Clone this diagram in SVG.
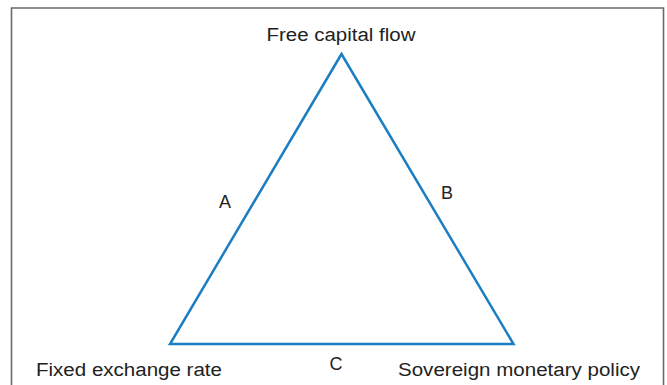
<svg xmlns="http://www.w3.org/2000/svg" width="667" height="385" viewBox="0 0 667 385">
<style>
.t{font-family:"Liberation Sans",Arial,sans-serif;font-size:18px;fill:#222}
.edge{fill:none;stroke:#1b7ec2;stroke-width:2.5;stroke-linejoin:miter}
</style>
<rect x="0" y="0" width="667" height="385" fill="#fff"/>
<path d="M11.5 390 V8 H663.5 V390" fill="none" stroke="#6a6a6a" stroke-width="1.6"/>
<g id="connectors">
<path class="edge" d="M341.5 54 L170 344 L513.5 344 Z"/>
</g>
<g id="node-capital"><text class="t" x="341" y="41" text-anchor="middle" textLength="149" lengthAdjust="spacingAndGlyphs">Free capital flow</text></g>
<g id="node-fixed"><text class="t" x="36" y="376" textLength="186" lengthAdjust="spacingAndGlyphs">Fixed exchange rate</text></g>
<g id="node-sovereign"><text class="t" x="398" y="376" textLength="242" lengthAdjust="spacingAndGlyphs">Sovereign monetary policy</text></g>
<g id="label-a"><text class="t" x="225" y="208" text-anchor="middle">A</text></g>
<g id="label-b"><text class="t" x="447" y="199" text-anchor="middle">B</text></g>
<g id="label-c"><text class="t" x="336" y="370" text-anchor="middle">C</text></g>
</svg>
